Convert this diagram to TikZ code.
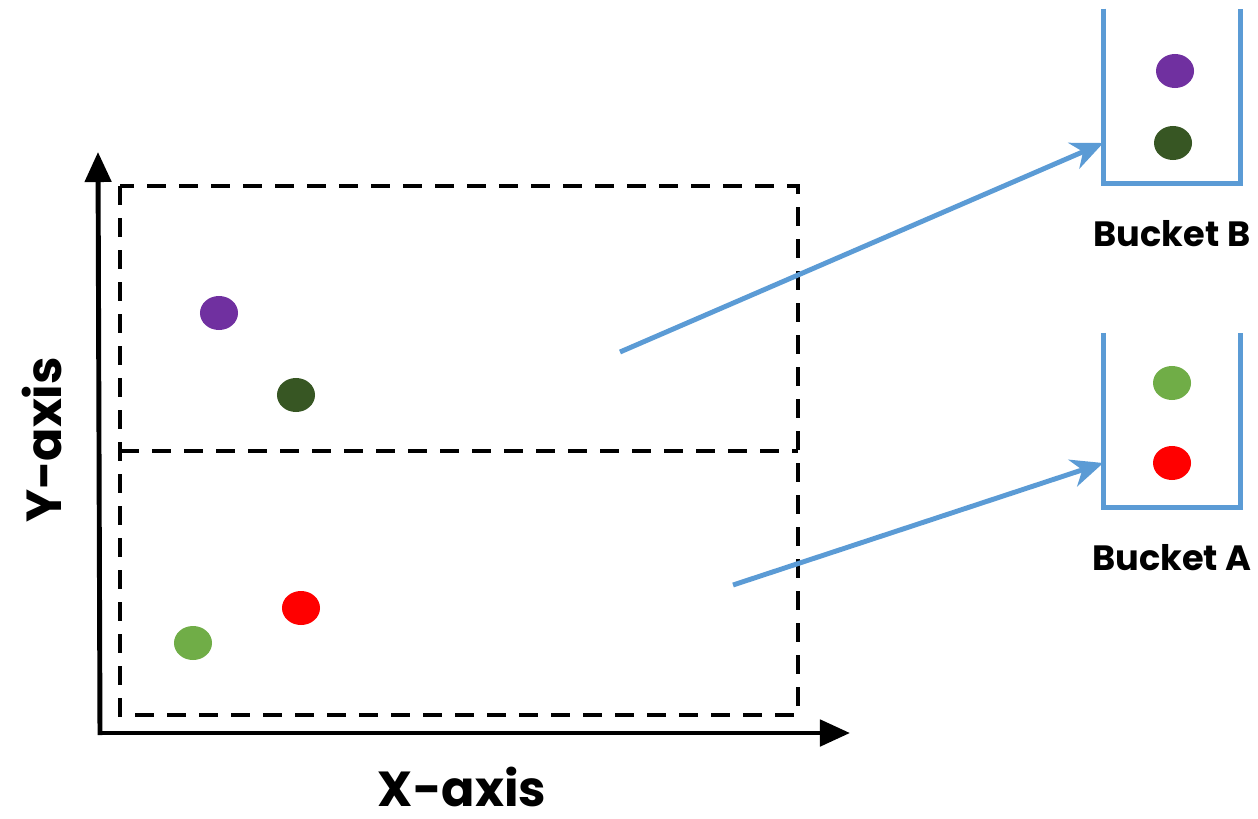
\documentclass[tikz,border=0pt]{standalone}
\usepackage{fontspec}
\setmainfont{Poppins}
\usetikzlibrary{arrows.meta,positioning,shapes.geometric}

\definecolor{linkblue}{HTML}{5B9BD5}
\definecolor{dotpurple}{HTML}{7030A0}
\definecolor{dotdark}{HTML}{375623}
\definecolor{dotgreen}{HTML}{70AD47}
\definecolor{dotred}{HTML}{FF0000}

\begin{document}
\begin{tikzpicture}[x=0.01cm,y=-0.01cm,every node/.style={font=\bfseries},
        dot/.style={ellipse,fill=#1,minimum width=0.38cm,minimum height=0.34cm,inner sep=0},
        axisline/.style={line width=1.4pt,-{Triangle[length=0.3cm,width=0.26cm]}},
        cellline/.style={line width=1.2pt,dash pattern=on 5.5pt off 3.6pt},
        bucketbox/.style={minimum width=1.36cm,minimum height=1.73cm,inner sep=0},
        link/.style={linkblue,line width=1.4pt,-{Stealth[length=0.32cm,width=0.28cm,inset=0.1cm]}}]
    \useasboundingbox (0,0) rectangle (1258,818);
    \draw[axisline] (100,735) -- (98,152); % y axis
    \draw[axisline] (98,733) -- (850,733); % x axis
    \node [font=\bfseries\fontsize{14}{16}\selectfont,inner sep=0] (xlabel) at (462,787) {X-axis};
    \node [font=\bfseries\fontsize{14}{16}\selectfont,inner sep=1pt,rotate=90] (ylabel) at (42,440) {Y-axis};
    \draw[cellline] (120,186) rectangle (798,715); % cells
    \draw[cellline] (120,451) -- (798,451);
    \foreach \c/\x/\y/\n in {dotpurple/219/313/ppurple,dotdark/296/395/pdark,dotgreen/193/643/pgreen,dotred/301/608/pred} {
        \node [dot=\c] (\n) at (\x,\y) {};
    }
    \foreach \b/\y in {B/96,A/420} {
        \node [bucketbox] (bucket\b) at (1172,\y) {};
        \draw[linkblue,line width=1.3pt] (bucket\b.north west) -- (bucket\b.south west) -- (bucket\b.south east) -- (bucket\b.north east);
        \node [font=\bfseries\fontsize{10}{12}\selectfont,below=0.25cm of bucket\b] (label\b) {Bucket \b};
    }
    \node [dot=dotpurple] (bpurple) at (1175,71) {};
    \node [dot=dotdark] (bdark) at (1173,143) {};
    \node [dot=dotgreen] (bgreen) at (1172,383) {};
    \node [dot=dotred] (bred) at (1172,463) {};
    \coordinate (fromB) at (620,352);
    \coordinate (fromA) at (733,585);
    \draw[link] (fromB) -- (bucketB.west |- bdark);
    \draw[link] (fromA) -- (bucketA.west |- bred);
\end{tikzpicture}
\end{document}
